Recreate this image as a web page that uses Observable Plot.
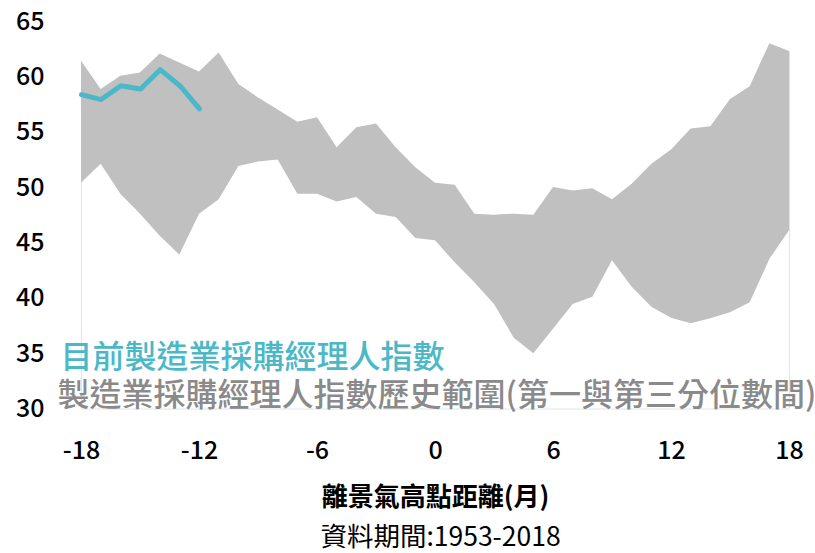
<!DOCTYPE html>
<html>
<head>
<meta charset="utf-8">
<script src="https://cdn.jsdelivr.net/npm/d3@7"></script>
<script src="https://cdn.jsdelivr.net/npm/@observablehq/plot@0.6"></script>
<style>
  html, body { margin: 0; padding: 0; background: #fff; }
  #chart { width: 815px; height: 553px; }
</style>
</head>
<body>
<div id="chart"></div>
<script>
// Months from the business-cycle peak
const months = [-18,-17,-16,-15,-14,-13,-12,-11,-10,-9,-8,-7,-6,-5,-4,-3,-2,-1,0,1,2,3,4,5,6,7,8,9,10,11,12,13,14,15,16,17,18];
// Historical third quartile (upper edge of band)
const upperQ = [61.4,58.85,60.05,60.35,62.07,61.25,60.45,62.15,59.3,58.1,57.0,55.9,56.3,53.6,55.4,55.75,53.6,51.8,50.4,50.2,47.6,47.5,47.6,47.5,50.0,49.7,49.9,48.9,50.3,52.1,53.4,55.3,55.5,57.95,59.1,63.0,62.3];
// Historical first quartile (lower edge of band)
const lowerQ = [50.4,52.1,49.4,47.6,45.6,43.9,47.6,48.9,51.9,52.3,52.5,49.4,49.4,48.7,49.1,47.6,47.3,45.4,45.2,43.2,41.4,39.45,36.4,35.0,37.2,39.45,40.1,43.4,41.0,39.2,38.2,37.7,38.15,38.7,39.6,43.5,46.1];
// Current PMI
const currentMonths = [-18,-17,-16,-15,-14,-13,-12];
const currentPMI = [58.4,57.95,59.2,58.9,60.65,59.2,57.1];
// Tick labels
const xTicks = [-18,-12,-6,0,6,12,18];
const yTicks = [30,35,40,45,50,55,60,65];
// Texts
const legendCurrent = "目前製造業採購經理人指數";
const legendRange = "製造業採購經理人指數歷史範圍(第一與第三分位數間)";
const xLabel = "離景氣高點距離(月)";
const caption = "資料期間:1953-2018";

const band = months.map((m, i) => ({month: m, upper: upperQ[i], lower: lowerQ[i]}));
const current = currentMonths.map((m, i) => ({month: m, value: currentPMI[i]}));
const edges = band.filter(d => d.month === xTicks[0] || d.month === xTicks[xTicks.length - 1]);

const font = "'Noto Sans CJK TC', 'Noto Sans', sans-serif";

const chart = Plot.plot({
  width: 815,
  height: 553,
  marginTop: 21,
  marginLeft: 81,
  marginRight: 26,
  marginBottom: 144.5,
  style: {fontFamily: font, fontSize: "25px", color: "#000", background: "#fff", overflow: "visible"},
  x: {domain: [-18, 18]},
  y: {domain: [30, 65]},
  marks: [
    Plot.ruleY([30], {stroke: "#e4e4e4", strokeWidth: 1}),
    Plot.ruleX(edges, {x: "month", y1: 30, y2: "upper", stroke: "#e4e4e4", strokeWidth: 1}),
    Plot.areaY(band, {x: "month", y1: "lower", y2: "upper", fill: "#c0c0c0", curve: "linear"}),
    Plot.line(current, {x: "month", y: "value", stroke: "#4bb8c8", strokeWidth: 5, strokeLinecap: "round", strokeLinejoin: "round"}),
    Plot.axisX({ticks: xTicks, tickSize: 0, tickPadding: 32, fontSize: 25, fontWeight: 500, label: null, tickFormat: d => String(d)}),
    Plot.axisY({ticks: yTicks, tickSize: 0, tickPadding: 37, fontSize: 25, fontWeight: 500, label: null}),
    Plot.text([legendCurrent], {text: d => d, frameAnchor: "bottom-left", textAnchor: "start", lineAnchor: "middle", dx: -21, dy: -51, fill: "#4bb8c8", fontSize: 32, fontWeight: 500}),
    Plot.text([legendRange], {text: d => d, frameAnchor: "bottom-left", textAnchor: "start", lineAnchor: "middle", dx: -24, dy: -13, fill: "#8a8a8a", fontSize: 32, fontWeight: 500}),
    Plot.text([xLabel], {text: d => d, frameAnchor: "bottom", textAnchor: "middle", lineAnchor: "middle", dy: 88.5, fill: "#000", fontSize: 26, fontWeight: "bold"}),
    Plot.text([caption], {text: d => d, frameAnchor: "bottom", textAnchor: "middle", lineAnchor: "middle", dx: 5, dy: 129, fill: "#000", fontSize: 26.5})
  ]
});
document.getElementById("chart").appendChild(chart);
</script>
</body>
</html>
